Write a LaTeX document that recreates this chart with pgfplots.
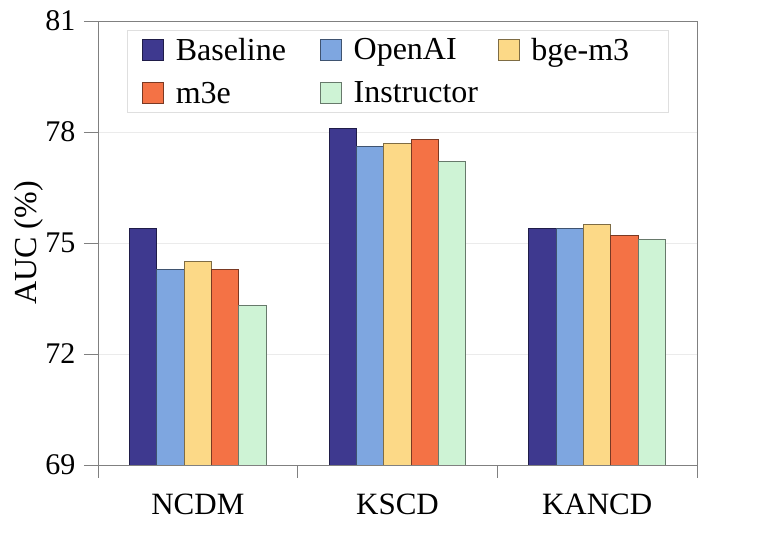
\documentclass[border=0pt]{standalone}
\usepackage{fontspec}
\setmainfont{Liberation Serif}
\usepackage{pgfplots}
\pgfplotsset{compat=1.18}
\usetikzlibrary{calc}
\definecolor{cBase}{RGB}{62,57,143}
\definecolor{cOpen}{RGB}{126,166,224}
\definecolor{cBge}{RGB}{252,217,135}
\definecolor{cM3e}{RGB}{244,114,69}
\definecolor{cInst}{RGB}{206,243,213}
\definecolor{spine}{RGB}{128,128,128}
\definecolor{gridc}{RGB}{235,235,235}
\begin{document}
\begin{tikzpicture}
\begin{axis}[
  name=ax,
  scale only axis,
  width=599pt, height=444pt,
  xmin=-0.5, xmax=2.5,
  ymin=69, ymax=81,
  ytick={69,72,75,78,81},
  xtick={0,1,2},
  xticklabels={NCDM,KSCD,KANCD},
  minor xtick={-0.5,0.5,1.5,2.5},
  major x tick style={draw=none},
  tick align=outside,
  major tick length=14pt,
  minor tick length=13pt,
  tick style={spine, line width=0.8pt},
  axis line style={spine, line width=0.8pt},
  xtick pos=bottom, ytick pos=left,
  ymajorgrids,
  grid style={gridc, line width=0.8pt},
  /pgf/number format/assume math mode=true,
  yticklabel style={font=\fontsize{30}{36}\selectfont, xshift=-5pt},
  xticklabel style={font=\fontsize{31}{37}\selectfont, yshift=-11pt},
  ylabel={AUC (\%)},
  ylabel shift=-5pt,
  ylabel style={font=\fontsize{32}{38}\selectfont},
  ybar,
  bar width=0.1368,
  legend columns=3,
  legend cell align=left,
  legend image code/.code={\draw[#1] (0pt,-10.5pt) rectangle (21pt,10.5pt);},
  legend style={
    at={(0.048,0.98)}, anchor=north west,
    draw=gray!25, fill=white, line width=0.6pt,
    font=\fontsize{32}{38}\selectfont,
    inner xsep=15pt, inner ysep=6pt,
    /tikz/every odd column/.append style={column sep=10pt},
    /tikz/every even column/.append style={column sep=20pt},
    row sep=16pt,
  },
]
\addplot[fill=cBase, draw=cBase!50!black, line width=0.8pt, bar shift=-0.2736]
  coordinates {(0,75.40) (1,78.10) (2,75.40)};
\addlegendentry{\makebox[122pt][l]{Baseline}}
\addplot[fill=cOpen, draw=cOpen!50!black, line width=0.8pt, bar shift=-0.1368]
  coordinates {(0,74.29) (1,77.60) (2,75.40)};
\addlegendentry{\makebox[122pt][l]{OpenAI}}
\addplot[fill=cBge, draw=cBge!50!black, line width=0.8pt, bar shift=0]
  coordinates {(0,74.49) (1,77.69) (2,75.50)};
\addlegendentry{\makebox[120pt][l]{bge-m3}}
\addplot[fill=cM3e, draw=cM3e!50!black, line width=0.8pt, bar shift=0.1368]
  coordinates {(0,74.29) (1,77.80) (2,75.21)};
\addlegendentry{\makebox[122pt][l]{m3e}}
\addplot[fill=cInst, draw=cInst!50!black, line width=0.8pt, bar shift=0.2736]
  coordinates {(0,73.30) (1,77.21) (2,75.10)};
\addlegendentry{\makebox[122pt][l]{Instructor}}
\end{axis}
\pgfresetboundingbox
\path ($(ax.south west)+(-98pt,-73pt)$) rectangle ++(761pt,538pt);
\end{tikzpicture}
\end{document}
